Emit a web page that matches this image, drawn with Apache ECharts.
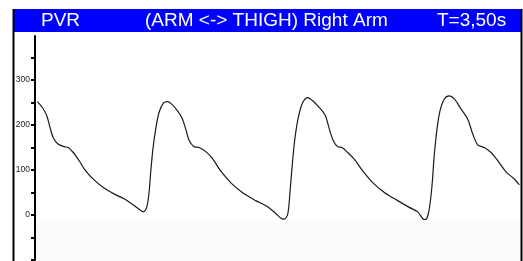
<!DOCTYPE html>
<html>
<head>
<meta charset="utf-8">
<script src="https://cdn.jsdelivr.net/npm/echarts@6/dist/echarts.min.js"></script>
<style>
  html, body { margin: 0; padding: 0; background: #fff; }
  #chart { width: 523px; height: 261px; }
</style>
</head>
<body>
<div id="chart"></div>
<script>
// time (s) and pressure readings
const TIMES = [
    0.017, 0.053, 0.084, 0.108, 0.132, 0.166, 0.209, 0.240, 0.276, 0.318,
    0.366, 0.426, 0.498, 0.570, 0.642, 0.702, 0.751, 0.782, 0.806, 0.823,
    0.835, 0.851, 0.871, 0.895, 0.926, 0.955, 0.984, 1.023, 1.059, 1.088,
    1.111, 1.147, 1.184, 1.232, 1.280, 1.340, 1.412, 1.496, 1.593, 1.676,
    1.739, 1.775, 1.799, 1.824, 1.840, 1.860, 1.878, 1.903, 1.932, 1.968,
    2.004, 2.052, 2.095, 2.124, 2.153, 2.184, 2.215, 2.257, 2.304, 2.365,
    2.437, 2.521, 2.617, 2.701, 2.762, 2.809, 2.827, 2.845, 2.865, 2.881,
    2.901, 2.923, 2.954, 2.990, 3.026, 3.074, 3.123, 3.159, 3.195, 3.242,
    3.291, 3.339, 3.399, 3.459, 3.495
]
const VALUES = [
    252, 239, 222, 195, 172, 158, 152, 150, 139, 121,
    98, 78, 60, 47, 36, 24, 13, 7, 17, 50,
    95, 147, 191, 228, 249, 252, 247, 234, 217, 191,
    167, 152, 150, 141, 126, 98, 72, 50, 32, 19,
    3, -7, -9, 2, 50, 124, 176, 221, 250, 261,
    254, 239, 221, 191, 165, 152, 150, 139, 124, 98,
    72, 50, 32, 17, 7, -10, -8, 13, 65, 132,
    191, 232, 258, 265, 258, 236, 213, 180, 156, 150,
    139, 121, 96, 80, 67
]
const TICK_VALUES = [-100, -50, 0, 50, 100, 150, 200, 250, 300, 350]
const LABEL_VALUES = [0, 100, 200, 300]

const HEADER_LEFT = 'PVR'
const HEADER_MID = '(ARM <-> THIGH) Right Arm'
const HEADER_RIGHT = 'T=3,50s'

let seriesData = []
for (let i = 0; i < TIMES.length; i++) {
    seriesData.push([TIMES[i], VALUES[i]])
}

const headerFont = {
    fill: '#fff',
    fontSize: 19,
    fontFamily: 'Liberation Sans, Arial, sans-serif',
    verticalAlign: 'middle'
}

let option = {
    animation: false,
    backgroundColor: '#fff',
    grid: { left: 35, right: 3, top: 36, bottom: 1 },
    xAxis: {
        type: 'value',
        min: 0,
        max: 3.5,
        show: false
    },
    yAxis: {
        type: 'value',
        min: -100,
        max: 398,
        interval: 50,
        splitLine: { show: false },
        axisLine: { show: true, lineStyle: { color: '#000', width: 2 } },
        axisTick: {
            show: true,
            length: 4,
            customValues: TICK_VALUES,
            lineStyle: { color: '#000', width: 2 }
        },
        axisLabel: {
            customValues: LABEL_VALUES,
            fontSize: 8.5,
            color: '#222',
            margin: 5,
            fontFamily: 'Liberation Sans, Arial, sans-serif'
        }
    },
    graphic: [
        // faint shading at the bottom of the plot
        { type: 'rect', z: -1, shape: { x: 35, y: 222, width: 485, height: 39 }, style: { fill: '#fbfbfb' } },
        // header bar
        { type: 'rect', shape: { x: 14, y: 9, width: 507, height: 23 }, style: { fill: '#0000ff' } },
        { type: 'text', x: 41, y: 21, style: Object.assign({ text: HEADER_LEFT }, headerFont) },
        { type: 'text', x: 145, y: 21, style: Object.assign({ text: HEADER_MID }, headerFont) },
        { type: 'text', x: 437, y: 21, style: Object.assign({ text: HEADER_RIGHT }, headerFont) },
        // frame
        { type: 'rect', shape: { x: 12.5, y: 9, width: 2, height: 252 }, style: { fill: '#000' } },
        { type: 'rect', shape: { x: 520.5, y: 9, width: 2, height: 252 }, style: { fill: '#000' } }
    ],
    series: [
        {
            type: 'line',
            data: seriesData,
            smooth: 0.3,
            symbol: 'none',
            lineStyle: { color: '#1a1a1a', width: 1.2 }
        }
    ]
}

let chart = echarts.init(document.getElementById('chart'))
chart.setOption(option)
</script>
</body>
</html>
